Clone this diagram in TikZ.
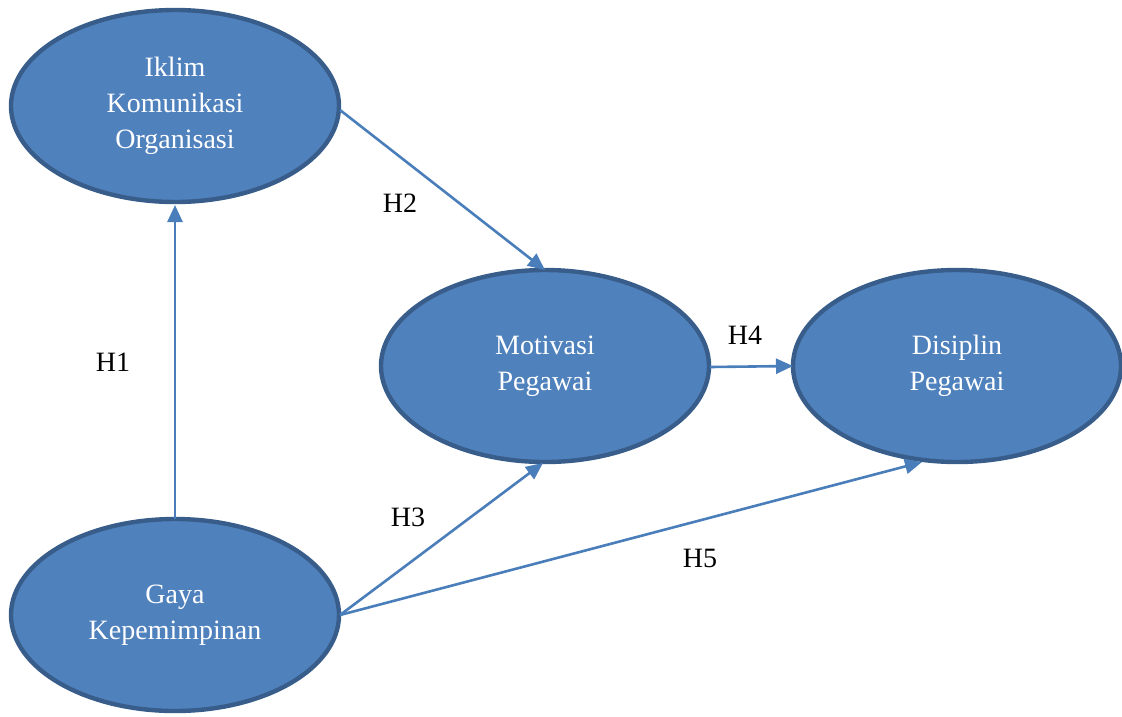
\documentclass[tikz,border=0pt]{standalone}
\usepackage{fontspec}
\setmainfont{Liberation Serif}
\usetikzlibrary{arrows.meta,shapes.geometric}
\definecolor{fillblue}{HTML}{4F81BD}
\definecolor{edgeblue}{HTML}{385D8A}
\definecolor{arrowblue}{HTML}{4A7EBB}
\tikzset{
  var/.style={ellipse, draw=edgeblue, fill=fillblue, line width=4.4pt,
    minimum width=328pt, minimum height=192pt, inner sep=0pt,
    text=white, align=center, font=\fontsize{28}{36}\selectfont},
  conn/.style={draw=arrowblue, line width=2.6pt, -{Triangle[length=17pt,width=15pt]}},
  hlab/.style={font=\fontsize{28}{30}\selectfont, text=black}
}
\begin{document}
\begin{tikzpicture}[x=1pt,y=-1pt]
\useasboundingbox (0,0) rectangle (1122,716);
\node[var] (iklim) at (175,106) {Iklim\\Komunikasi\\Organisasi};
\node[var] (motiv) at (545,366) {Motivasi\\Pegawai};
\node[var] (disip) at (957,366) {Disiplin\\Pegawai};
\node[var] (gaya) at (175,615) {Gaya\\Kepemimpinan};
\coordinate (g1) at (175,519);
\coordinate (i1) at (175,205);
\coordinate (i2) at (340,110);
\coordinate (m1) at (545,270);
\coordinate (m2) at (710,367);
\coordinate (d1) at (793,366);
\coordinate (g2) at (340,615);
\coordinate (m3) at (543,463);
\coordinate (d2) at (922,462);
\draw[conn] (g1) -- (i1);
\draw[conn] (i2) -- (m1);
\draw[conn] (m2) -- (d1);
\draw[conn] (g2) -- (m3);
\draw[conn] (g2) -- (d2);
\node[hlab] (h1) at (113,362) {H1};
\node[hlab] (h2) at (400,203) {H2};
\node[hlab] (h3) at (408,517) {H3};
\node[hlab] (h4) at (745,335) {H4};
\node[hlab] (h5) at (700,558) {H5};
\end{tikzpicture}
\end{document}
